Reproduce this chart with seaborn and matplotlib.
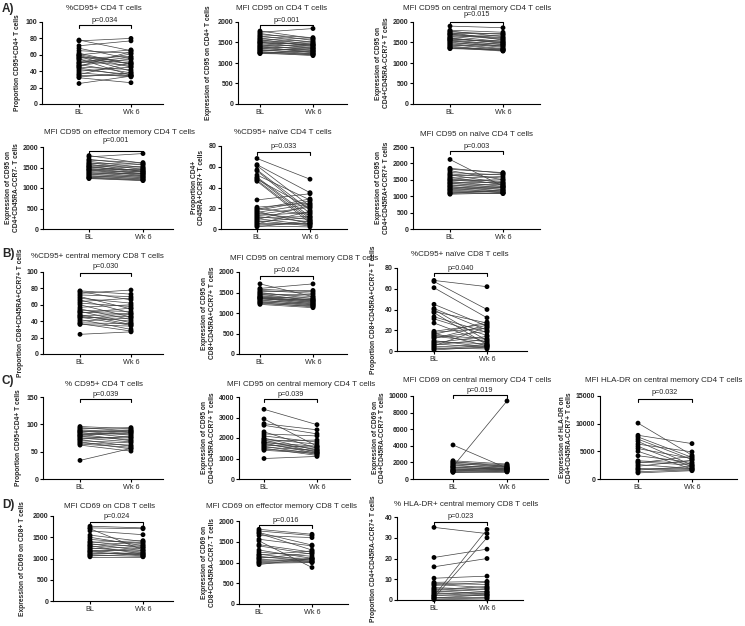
import numpy as np
import pandas as pd
import seaborn as sns
import matplotlib.pyplot as plt

# values: one BL / Wk 6 pair per participant
a1_bl = [78, 77, 71, 68, 65, 62, 60, 59, 58, 57, 56, 55, 54, 52, 50, 48, 47, 45, 44, 42, 40, 38, 36, 35, 33, 32, 25, 50, 46, 60]
a1_wk = [65, 80, 77, 55, 62, 48, 66, 45, 40, 52, 58, 35, 50, 47, 61, 38, 55, 42, 34, 36, 45, 33, 50, 35, 38, 26, 34, 57, 64, 49]

a2_bl = [1780, 1750, 1720, 1690, 1660, 1640, 1610, 1590, 1570, 1550, 1530, 1510, 1490, 1470, 1450, 1430, 1410, 1400, 1380, 1360, 1350, 1330, 1310, 1300, 1280, 1260, 1250, 1240, 1230, 1500]
a2_wk = [1600, 1840, 1550, 1620, 1500, 1580, 1450, 1520, 1400, 1480, 1430, 1350, 1460, 1380, 1300, 1420, 1330, 1250, 1370, 1280, 1310, 1220, 1260, 1350, 1200, 1230, 1180, 1290, 1210, 1440]

a3_bl = [1900, 1800, 1780, 1760, 1740, 1720, 1700, 1680, 1650, 1630, 1610, 1590, 1570, 1550, 1530, 1510, 1490, 1470, 1450, 1430, 1410, 1390, 1370, 1360, 1350, 1600, 1560, 1700]
a3_wk = [1860, 1750, 1640, 1700, 1560, 1720, 1600, 1580, 1520, 1680, 1480, 1500, 1540, 1400, 1460, 1380, 1420, 1350, 1330, 1440, 1300, 1310, 1290, 1340, 1320, 1500, 1450, 1620]

a4_bl = [1790, 1760, 1700, 1680, 1650, 1620, 1600, 1580, 1560, 1540, 1520, 1500, 1480, 1460, 1440, 1420, 1400, 1380, 1360, 1340, 1320, 1300, 1280, 1260, 1250, 1240, 1230, 1450, 1520]
a4_wk = [1600, 1840, 1560, 1620, 1500, 1450, 1580, 1400, 1520, 1480, 1380, 1430, 1350, 1460, 1300, 1400, 1330, 1280, 1360, 1250, 1310, 1220, 1270, 1200, 1240, 1190, 1180, 1350, 1410]

a5_bl = [68, 62, 61, 57, 56, 52, 50, 49, 48, 47, 46, 28, 21, 20, 19, 18, 17, 16, 15, 14, 13, 12, 11, 10, 9, 8, 7, 6, 5, 4, 3, 2]
a5_wk = [48, 35, 22, 18, 15, 28, 12, 10, 20, 8, 6, 34, 25, 14, 29, 27, 5, 24, 9, 21, 16, 7, 12, 4, 23, 3, 11, 6, 17, 5, 2, 8]

a6_bl = [2120, 1850, 1820, 1780, 1720, 1680, 1650, 1620, 1580, 1550, 1520, 1500, 1480, 1450, 1420, 1400, 1380, 1350, 1320, 1300, 1280, 1250, 1220, 1200, 1180, 1150, 1120, 1100, 1080, 1060]
a6_wk = [1300, 1700, 1720, 1500, 1650, 1550, 1400, 1680, 1350, 1600, 1450, 1380, 1500, 1300, 1420, 1250, 1350, 1200, 1300, 1150, 1280, 1100, 1250, 1180, 1120, 1150, 1090, 1080, 1200, 1100]

b1_bl = [77, 76, 74, 72, 70, 68, 66, 64, 60, 57, 55, 53, 52, 50, 48, 47, 46, 45, 44, 42, 40, 38, 37, 36, 24, 62, 51]
b1_wk = [73, 66, 78, 70, 55, 62, 50, 68, 45, 60, 42, 52, 38, 56, 36, 48, 40, 35, 46, 30, 44, 37, 28, 34, 27, 58, 49]

b2_bl = [1710, 1600, 1580, 1550, 1520, 1500, 1480, 1460, 1440, 1420, 1400, 1390, 1380, 1370, 1360, 1350, 1340, 1320, 1300, 1280, 1260, 1250, 1230, 1210]
b2_wk = [1400, 1710, 1520, 1480, 1550, 1350, 1400, 1300, 1450, 1320, 1280, 1360, 1250, 1300, 1220, 1270, 1330, 1200, 1240, 1180, 1210, 1150, 1170, 1130]

b3_bl = [68, 67, 61, 45, 41, 40, 38, 37, 33, 31, 27, 19, 18, 17, 16, 15, 14, 13, 12, 10, 9, 8, 7, 6, 5, 4, 3, 2, 1]
b3_wk = [62, 40, 32, 24, 20, 10, 27, 6, 18, 15, 8, 26, 22, 5, 28, 12, 9, 19, 25, 4, 7, 14, 3, 11, 23, 6, 2, 5, 4]

c1_bl = [96, 94, 92, 90, 88, 86, 85, 84, 82, 80, 78, 77, 75, 73, 72, 70, 68, 66, 64, 62, 34, 80, 88]
c1_wk = [92, 88, 94, 85, 80, 90, 76, 82, 70, 88, 72, 75, 68, 78, 60, 66, 55, 62, 58, 51, 56, 84, 86]

c2_bl = [3400, 2930, 2700, 2620, 2300, 2200, 2100, 2000, 1950, 1900, 1850, 1800, 1780, 1750, 1700, 1650, 1600, 1550, 1500, 1450, 1400, 1000]
c2_wk = [2650, 1600, 2400, 2200, 1500, 2100, 1800, 1400, 1700, 1300, 1900, 1450, 1600, 1250, 1350, 1550, 1200, 1400, 1150, 1300, 1250, 1100]

c3_bl = [4100, 2200, 2100, 2000, 1900, 1800, 1700, 1600, 1500, 1450, 1400, 1300, 1200, 1100, 1050, 1000, 950, 900, 850, 800]
c3_wk = [1300, 1800, 1500, 1700, 1400, 1600, 1200, 1300, 9400, 1100, 1500, 1250, 1000, 1350, 1150, 900, 1200, 1050, 850, 950]

c4_bl = [10100, 7900, 7600, 7200, 6800, 6300, 5900, 5500, 5000, 4200, 3300, 3100, 2900, 2600, 2300, 2000, 1800, 1600, 1300, 1100]
c4_wk = [4300, 6400, 3900, 3500, 2500, 4900, 2200, 3700, 1800, 3000, 2800, 2500, 4100, 1900, 3400, 2000, 1600, 2300, 1700, 1500]

d1_bl = [1760, 1720, 1700, 1650, 1550, 1500, 1450, 1400, 1380, 1350, 1320, 1300, 1280, 1250, 1230, 1200, 1180, 1160, 1150, 1120, 1100, 1080, 1060, 1040]
d1_wk = [1720, 1700, 1200, 1560, 1400, 1300, 1350, 1250, 1420, 1180, 1380, 1100, 1320, 1150, 1280, 1080, 1200, 1060, 1250, 1120, 1140, 1050, 1100, 1040]

d2_bl = [1800, 1760, 1720, 1700, 1650, 1560, 1520, 1430, 1400, 1300, 1250, 1200, 1180, 1150, 1120, 1100, 1080, 1050, 1020, 1000, 980, 950]
d2_wk = [1680, 1650, 1420, 1300, 1600, 1400, 880, 1250, 1200, 1100, 1150, 1050, 1280, 1020, 1100, 1230, 1000, 1080, 1060, 1020, 1000, 1100]

d3_bl = [35, 20.5, 16, 10.5, 8.5, 8, 7.5, 7, 6, 5.5, 5, 4.5, 4, 3.5, 3, 2.5, 2, 1.5, 1, 0.5, 0.2, 2, 1]
d3_wk = [32, 24.5, 20, 11.5, 9, 7.5, 6, 8.5, 5, 4, 6.5, 3, 5.5, 2.5, 4, 2, 3.5, 1.5, 2.5, 1, 0.5, 34, 30]

series = [(a1_bl, a1_wk), (a2_bl, a2_wk), (a3_bl, a3_wk), (a4_bl, a4_wk), (a5_bl, a5_wk), (a6_bl, a6_wk),
          (b1_bl, b1_wk), (b2_bl, b2_wk), (b3_bl, b3_wk),
          (c1_bl, c1_wk), (c2_bl, c2_wk), (c3_bl, c3_wk), (c4_bl, c4_wk),
          (d1_bl, d1_wk), (d2_bl, d2_wk), (d3_bl, d3_wk)]

timepoints = ["BL", "Wk 6"]

titles = ["%CD95+ CD4 T cells", "MFI CD95 on CD4 T cells", "MFI CD95 on central memory CD4 T cells",
          "MFI CD95 on effector memory CD4 T cells", "%CD95+ naïve CD4 T cells", "MFI CD95 on naïve CD4 T cells",
          "%CD95+ central memory CD8 T cells", "MFI CD95 on central memory CD8 T cells", "%CD95+ naïve CD8 T cells",
          "% CD95+ CD4 T cells", "MFI CD95 on central memory CD4 T cells", "MFI CD69 on central memory CD4 T cells",
          "MFI HLA-DR on central memory CD4 T cells",
          "MFI CD69 on CD8 T cells", "MFI CD69 on effector memory CD8 T cells", "% HLA-DR+ central memory CD8 T cells"]

ylabels = ["Proportion CD95+CD4+ T cells", "Expression of CD95 on CD4+ T cells",
           "Expression of CD95 on\nCD4+CD45RA-CCR7+ T cells", "Expression of CD95 on\nCD4+CD45RA-CCR7- T cells",
           "Proportion CD4+\nCD45RA+CCR7+ T cells", "Expression of CD95 on\nCD4+CD45RA+CCR7+ T cells",
           "Proportion CD8+CD45RA+CCR7+ T cells", "Expression of CD95 on\nCD8+CD45RA+CCR7+ T cells",
           "Proportion CD8+CD45RA+CCR7+ T cells",
           "Proportion CD95+CD4+ T cells", "Expression of CD95 on\nCD4+CD45RA-CCR7+ T cells",
           "Expression of CD69 on\nCD4+CD45RA-CCR7+ T cells", "Expression of HLA-DR on\nCD4+CD45RA-CCR7+ T cells",
           "Expression of CD69 on CD8+ T cells", "Expression of CD69 on\nCD8+CD45RA-CCR7- T cells",
           "Proportion CD4+CD45RA-CCR7+ T cells"]

pvals = ["p=0.034", "p=0.001", "p=0.015", "p=0.001", "p=0.033", "p=0.003",
         "p=0.030", "p=0.024", "p=0.040",
         "p=0.039", "p=0.039", "p=0.019", "p=0.032",
         "p=0.024", "p=0.016", "p=0.023"]

ymax = [100, 2000, 2000, 2000, 80, 2500, 100, 2000, 80, 150, 4000, 10000, 15000, 2000, 2000, 40]
ystep = [20, 500, 500, 500, 20, 500, 20, 500, 20, 50, 1000, 2000, 5000, 500, 500, 10]

# layout in pixels: left, right, top, bottom, x of BL, x of Wk 6, ylabel pad (pt), title x, title y, p y, bracket y
layout = [
    (42, 163, 22, 104, 79, 131, 3, 104, 9, 20, 25),
    (238, 347, 22, 104, 260, 313, 4, 282, 9, 20, 25),
    (413, 540, 22, 104, 450, 503, 2, 477, 9, 15, 22),
    (43, 173, 147, 229, 89, 143, 2, 120, 132, 140, 151),
    (221, 347, 146, 229, 257, 310, 2, 283, 132, 146, 152),
    (413, 540, 147, 229, 450, 503, 2, 476, 134, 146, 151),
    (43, 163, 272, 354, 80, 131, 1.5, 97, 256, 267, 273),
    (239, 347, 272, 354, 260, 313, 2, 304, 259, 271, 276),
    (397, 527, 268, 351, 434, 487, 5, 460, 255, 268, 273),
    (43, 163, 397, 479, 80, 131, 3, 104, 384, 394, 399),
    (239, 350, 397, 479, 264, 317, 2, 301, 384, 394, 399),
    (413, 548, 396, 479, 453, 507, 2, 477, 381, 390, 395),
    (600, 737, 396, 479, 638, 692, 2, 664, 381, 393, 399),
    (53, 173, 516, 601, 90, 143, 5, 110, 506, 517, 522),
    (239, 348, 521, 604, 259, 312, 2, 282, 506, 520, 525),
    (397, 523, 517, 600, 434, 487, 5, 466, 504, 517, 522),
]

sections = [("A)", 2, 9), ("B)", 2, 254), ("C)", 2, 381), ("D)", 2, 505)]

sns.set_style("ticks")
plt.rcParams['font.family'] = ['Liberation Sans', 'DejaVu Sans']

W, H = 745, 626
fig = plt.figure(figsize=(7.45, 6.26), dpi=100)

for i in range(len(series)):
    bl, wk = series[i]
    L, R, T, B, xb, xw, lpad, tx, ty, py, by = layout[i]
    n = len(bl)
    df = pd.DataFrame({'id': list(range(n)) * 2,
                       'time': [timepoints[0]] * n + [timepoints[1]] * n,
                       'value': list(bl) + list(wk)})

    ax = fig.add_axes([L / W, 1 - B / H, (R - L) / W, (B - T) / H])
    sns.lineplot(data=df, x='time', y='value', units='id', estimator=None, sort=False,
                 color='0.25', lw=0.5, ax=ax, legend=False)
    sns.scatterplot(data=df, x='time', y='value', color='black', s=12, edgecolor='none',
                    ax=ax, zorder=3, clip_on=False, legend=False)

    d = xw - xb
    ax.set_xlim((L - xb) / d, 1 + (R - xw) / d)
    ax.set_ylim(0, ymax[i])
    ax.set_yticks(np.arange(0, ymax[i] + 1, ystep[i]))
    ax.set_xlabel('')
    ax.set_ylabel(ylabels[i], fontsize=4.8, fontweight='bold', linespacing=1.05, labelpad=lpad)
    ax.tick_params(axis='both', length=2.5, width=0.8, pad=1.0, color='black')
    ax.tick_params(axis='y', labelsize=5)
    ax.tick_params(axis='x', labelsize=5.2)
    for lab in ax.get_yticklabels():
        lab.set_fontweight('bold')
    for s in ['left', 'bottom']:
        ax.spines[s].set_linewidth(0.8)
        ax.spines[s].set_color('black')
    sns.despine(ax=ax)

    # significance bracket
    ppx = ymax[i] / (B - T)
    yb = (B - by) * ppx
    cap = 3 * ppx
    ax.plot([timepoints[0], timepoints[0], timepoints[1], timepoints[1]], [yb - cap, yb, yb, yb - cap],
            color='black', lw=0.8, clip_on=False)
    fig.text((xb + xw) / 2 / W, 1 - py / H, pvals[i], ha='center', va='center', fontsize=5.2)
    fig.text(tx / W, 1 - ty / H, titles[i], ha='center', va='center', fontsize=5.8)

for lab, x, y in sections:
    fig.text(x / W, 1 - y / H, lab, ha='left', va='center', fontsize=8.5, fontweight='bold')

fig.savefig('out.png', dpi=100)
